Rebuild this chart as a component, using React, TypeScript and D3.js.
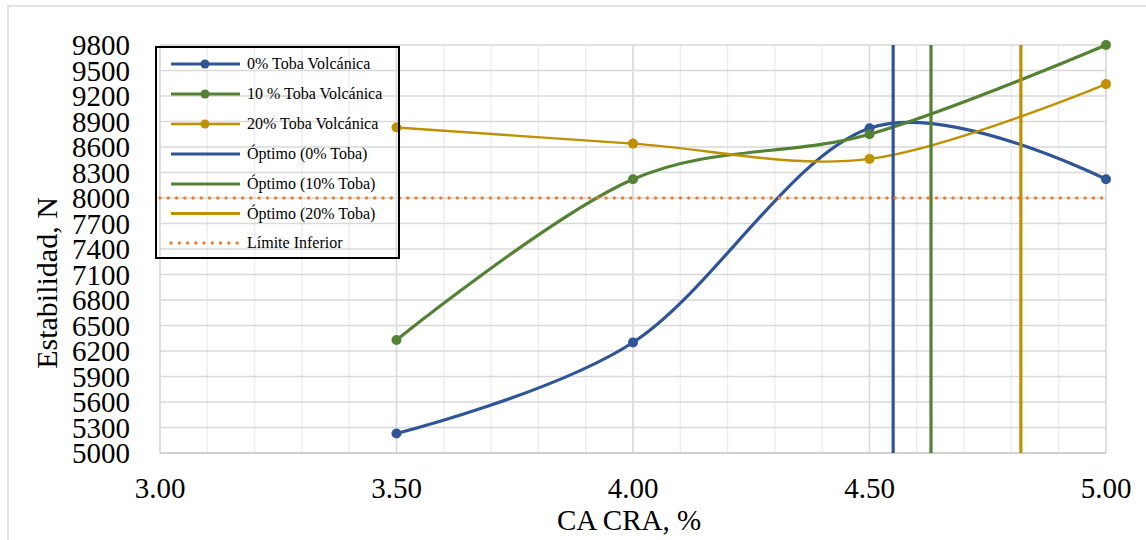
import React from "react";
import * as d3 from "d3";

const xValues = [3.5, 4.0, 4.5, 5.0];
const toba0 = [5230, 6300, 8820, 8220];
const toba10 = [6330, 8220, 8750, 9800];
const toba20 = [8830, 8640, 8460, 9340];
const optimos = [4.55, 4.63, 4.82];
const limiteInferior = 8000;
const yTicks = [5000, 5300, 5600, 5900, 6200, 6500, 6800, 7100, 7400, 7700, 8000, 8300, 8600, 8900, 9200, 9500, 9800];
const xTicks = [3.0, 3.5, 4.0, 4.5, 5.0];
const legendLabels = [
  "0% Toba Volcánica",
  "10 % Toba Volcánica",
  "20% Toba Volcánica",
  "Óptimo (0% Toba)",
  "Óptimo (10% Toba)",
  "Óptimo (20% Toba)",
  "Límite Inferior",
];

const BLUE = "#2F5597";
const GREEN = "#548235";
const GOLD = "#BF9000";
const ORANGE = "#ED7D31";
const FONT = "'Liberation Serif', 'Times New Roman', serif";

export default function App() {
  const W = 1146, H = 540;
  const left = 160, right = 1106, top = 45, bottom = 453;
  const x = d3.scaleLinear().domain([3.0, 5.0]).range([left, right]);
  const y = d3.scaleLinear().domain([5000, 9800]).range([bottom, top]);

  const line = d3
    .line<[number, number]>()
    .x((d) => x(d[0]))
    .y((d) => y(d[1]))
    .curve(d3.curveCardinal.tension(0));

  const series = [
    { vals: toba0, color: BLUE, w: 3.2 },
    { vals: toba10, color: GREEN, w: 3.2 },
    { vals: toba20, color: GOLD, w: 2.4 },
  ];
  const optColors = [BLUE, GREEN, GOLD];

  const minorX = d3.range(0, 21).map((i) => 3.0 + i * 0.1);

  const legendRows = [64, 94, 124, 154, 184, 213.5, 243];
  const legendItems = [
    { color: BLUE, marker: true, w: 3.2, dotted: false },
    { color: GREEN, marker: true, w: 3.2, dotted: false },
    { color: GOLD, marker: true, w: 2.4, dotted: false },
    { color: BLUE, marker: false, w: 3.2, dotted: false },
    { color: GREEN, marker: false, w: 3.2, dotted: false },
    { color: GOLD, marker: false, w: 3.2, dotted: false },
    { color: ORANGE, marker: false, w: 3.2, dotted: true },
  ];

  return (
    <svg
      width={W}
      height={H}
      style={{ position: "absolute", left: 0, top: 0, background: "#fff" }}
      fontFamily={FONT}
    >
      <rect x={8} y={6} width={W} height={H} fill="#fff" stroke="#d9d9d9" strokeWidth={1.5} />
      {/* minor vertical grid */}
      {minorX.map((v, i) => (
        <line key={"mx" + i} x1={x(v)} x2={x(v)} y1={top} y2={bottom} stroke="#ececec" strokeWidth={1.3} />
      ))}
      {/* major vertical grid */}
      {xTicks.map((v, i) => (
        <line key={"MX" + i} x1={x(v)} x2={x(v)} y1={top} y2={bottom} stroke="#d9d9d9" strokeWidth={1.5} />
      ))}
      {/* horizontal grid */}
      {yTicks.map((v, i) => (
        <line key={"hy" + i} x1={left} x2={right} y1={y(v)} y2={y(v)} stroke="#d9d9d9" strokeWidth={1.5} />
      ))}
      <line x1={left} x2={right} y1={bottom} y2={bottom} stroke="#d0d0d0" strokeWidth={1.8} />

      {/* series */}
      {series.map((s, i) => (
        <g key={"s" + i}>
          <path
            d={line(xValues.map((xv, j) => [xv, s.vals[j]] as [number, number])) || ""}
            fill="none"
            stroke={s.color}
            strokeWidth={s.w}
          />
          {xValues.map((xv, j) => (
            <circle key={j} cx={x(xv)} cy={y(s.vals[j])} r={5} fill={s.color} />
          ))}
        </g>
      ))}

      {/* optimum verticals */}
      {optimos.map((v, i) => (
        <line key={"o" + i} x1={x(v)} x2={x(v)} y1={top} y2={bottom} stroke={optColors[i]} strokeWidth={3.2} />
      ))}

      {/* lower limit */}
      <line
        x1={left}
        x2={right}
        y1={y(limiteInferior)}
        y2={y(limiteInferior)}
        stroke={ORANGE}
        strokeWidth={3.3}
        strokeDasharray="0.01 8.25"
        strokeLinecap="round"
      />

      {/* y tick labels */}
      {yTicks.map((v, i) => (
        <text key={"yt" + i} x={130} y={y(v) + 10} textAnchor="end" fontSize={29} fill="#000">
          {v}
        </text>
      ))}
      {/* x tick labels */}
      {xTicks.map((v, i) => (
        <text key={"xt" + i} x={x(v)} y={498} textAnchor="middle" fontSize={29} fill="#000">
          {v.toFixed(2)}
        </text>
      ))}
      <text x={629} y={530} textAnchor="middle" fontSize={29} fill="#000">
        CA CRA, %
      </text>
      <text
        transform={`translate(57, 283) rotate(-90)`}
        textAnchor="middle"
        fontSize={30}
        fill="#000"
      >
        Estabilidad, N
      </text>

      {/* legend */}
      <rect x={156} y={47} width={243} height={211} fill="none" stroke="#000" strokeWidth={2} />
      {legendItems.map((it, i) => (
        <g key={"lg" + i}>
          <line
            x1={171}
            x2={240}
            y1={legendRows[i]}
            y2={legendRows[i]}
            stroke={it.color}
            strokeWidth={it.dotted ? 3.3 : it.w}
            strokeDasharray={it.dotted ? "0.01 8.25" : undefined}
            strokeLinecap={it.dotted ? "round" : "butt"}
          />
          {it.marker && <circle cx={205} cy={legendRows[i]} r={4.5} fill={it.color} />}
          <text x={247} y={legendRows[i] + 5} fontSize={16} fill="#000">
            {legendLabels[i]}
          </text>
        </g>
      ))}
    </svg>
  );
}
